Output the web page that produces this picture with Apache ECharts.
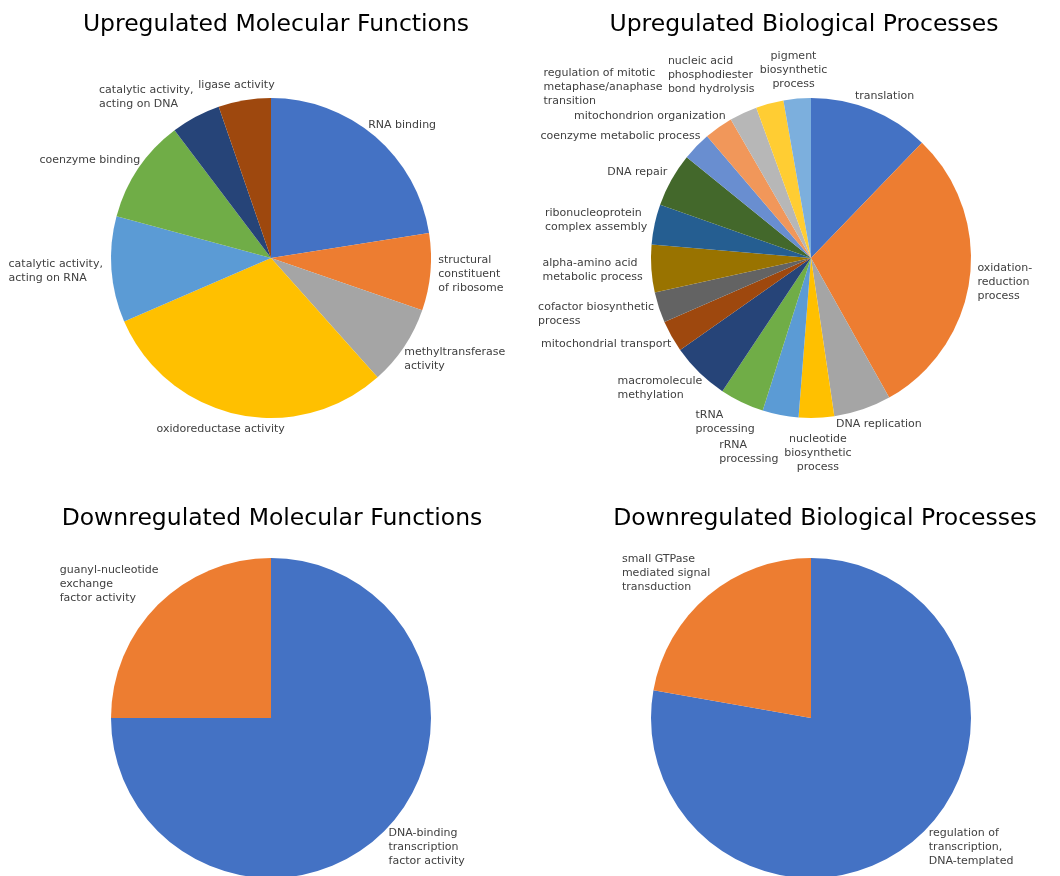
<!DOCTYPE html>
<html>
<head>
<meta charset="utf-8">
<title>GO enrichment pies</title>
<script src="https://cdn.jsdelivr.net/npm/echarts@6/dist/echarts.min.js"></script>
<style>
  html, body { margin: 0; padding: 0; background: #ffffff; }
  #chart { width: 1060px; height: 876px; }
</style>
</head>
<body>
<div id="chart"></div>
<script>
// Upregulated molecular functions (share of terms, %)
const upMfNames = [
  'RNA binding',
  'structural\nconstituent\nof ribosome',
  'methyltransferase\nactivity',
  'oxidoreductase activity',
  'catalytic activity,\nacting on RNA',
  'coenzyme binding',
  'catalytic activity,\nacting on DNA',
  'ligase activity'
];
const upMfValues = [22.5, 7.8, 8.1, 30.1, 10.7, 10.5, 5.0, 5.3];

// Upregulated biological processes (share of terms, %)
const upBpNames = [
  'translation',
  'oxidation-\nreduction\nprocess',
  'DNA replication',
  'nucleotide\nbiosynthetic\nprocess',
  'rRNA\nprocessing',
  'tRNA\nprocessing',
  'macromolecule\nmethylation',
  'mitochondrial transport',
  'cofactor biosynthetic\nprocess',
  'alpha-amino acid\nmetabolic process',
  'ribonucleoprotein\ncomplex assembly',
  'DNA repair',
  'coenzyme metabolic process',
  'mitochondrion organization',
  'regulation of mitotic\nmetaphase/anaphase\ntransition',
  'nucleic acid\nphosphodiester\nbond hydrolysis',
  'pigment\nbiosynthetic\nprocess'
];
const upBpValues = [12.2, 29.7, 5.8, 3.57, 3.64, 4.47, 5.9, 3.2, 3.1, 4.8, 4.07, 5.45, 2.9, 2.9, 2.8, 2.8, 2.76];

// Downregulated molecular functions (term counts)
const downMfNames = ['DNA-binding\ntranscription\nfactor activity', 'guanyl-nucleotide\nexchange\nfactor activity'];
const downMfValues = [3, 1];

// Downregulated biological processes (term counts)
const downBpNames = ['regulation of\ntranscription,\nDNA-templated', 'small GTPase\nmediated signal\ntransduction'];
const downBpValues = [7, 2];

const panelTitles = [
  'Upregulated Molecular Functions',
  'Upregulated Biological Processes',
  'Downregulated Molecular Functions',
  'Downregulated Biological Processes'
];

// Office-style palette in slice order
const palette = [
  '#4472C4', '#ED7D31', '#A5A5A5', '#FFC000', '#5B9BD5', '#70AD47',
  '#264478', '#9E480E', '#636363', '#997300', '#255E91', '#43682B',
  '#698ED0', '#F1975A', '#B7B7B7', '#FFCD33', '#7CAFDD'
];

const FONT = '"DejaVu Sans", Verdana, sans-serif';
const LABEL_SIZE = 11;
const LABEL_LINE_H = 14;
const RADIUS = 160;
const W = 1060, H = 876;

const panels = [
  { names: upMfNames,   values: upMfValues,   center: [271, 258], minY: 45,  maxY: 485 },
  { names: upBpNames,   values: upBpValues,   center: [811, 258], minY: 45,  maxY: 485 },
  { names: downMfNames, values: downMfValues, center: [271, 718], minY: 535, maxY: H - 8 },
  { names: downBpNames, values: downBpValues, center: [811, 718], minY: 535, maxY: H - 8 }
];

// ---- outside-end label placement --------------------------------------
const measureCtx = document.createElement('canvas').getContext('2d');
measureCtx.font = LABEL_SIZE + 'px ' + FONT;

function labelSize(text) {
  const lines = text.split('\n');
  let w = 0;
  lines.forEach(l => { w = Math.max(w, measureCtx.measureText(l).width); });
  return { w: Math.ceil(w), h: lines.length * LABEL_LINE_H };
}

const PAD_X = 4, PAD_Y = 1;
function overlaps(a, b) {
  return a.x - PAD_X < b.x + b.w && b.x - PAD_X < a.x + a.w &&
         a.y - PAD_Y < b.y + b.h && b.y - PAD_Y < a.y + a.h;
}

function nearestDist(box, c) {
  const nx = Math.max(box.x, Math.min(c[0], box.x + box.w));
  const ny = Math.max(box.y, Math.min(c[1], box.y + box.h));
  return Math.hypot(nx - c[0], ny - c[1]);
}

function layoutLabels(panel) {
  const { names, values, center, minY, maxY } = panel;
  const total = values.reduce((s, v) => s + v, 0);
  const gap = 8;
  let acc = 0;
  const items = names.map((name, i) => {
    const a0 = acc / total * 360;
    acc += values[i];
    const a1 = acc / total * 360;
    const mid = (a0 + a1) / 2;
    const rad = mid * Math.PI / 180;
    const ux = Math.sin(rad), uy = -Math.cos(rad);
    const s = labelSize(name);
    const cx = center[0] + (RADIUS + gap) * ux + s.w / 2 * ux;
    const cy = center[1] + (RADIUS + gap) * uy + s.h / 2 * uy;
    return {
      i, mid, ux, uy, w: s.w, h: s.h, x: cx - s.w / 2, y: cy - s.h / 2,
      align: Math.abs(ux) < 0.1 ? 'center' : 'left'
    };
  });

  // right half first (top to bottom), then left half (top to bottom)
  const right = items.filter(it => it.ux >= 0).sort((a, b) => a.mid - b.mid);
  const left = items.filter(it => it.ux < 0).sort((a, b) => b.mid - a.mid);
  const placed = [];
  const minClear = RADIUS - 1;

  function valid(box) {
    if (box.y < minY || box.y + box.h > maxY) return false;
    if (box.x < 2 || box.x + box.w > W - 2) return false;
    if (nearestDist(box, center) < minClear) return false;
    for (const p of placed) if (overlaps(box, p)) return false;
    return true;
  }

  // nudge each label the least distance (sideways preferred) to clear the pie and earlier labels
  const AX = 1, AY = 2;
  [...right, ...left].forEach(it => {
    let best = null, bestCost = Infinity;
    for (let dx = -170; dx <= 170; dx++) {
      const cx = AX * Math.abs(dx);
      if (cx >= bestCost) continue;
      for (let dy = -90; dy <= 90; dy++) {
        const cost = cx + AY * Math.abs(dy);
        if (cost >= bestCost) continue;
        const box = { x: it.x + dx, y: it.y + dy, w: it.w, h: it.h };
        if (valid(box)) { best = box; bestCost = cost; }
      }
    }
    if (best) { it.x = best.x; it.y = best.y; }
    placed.push({ x: it.x, y: it.y, w: it.w, h: it.h });
  });

  const out = [];
  items.forEach(it => { out[it.i] = it; });
  return out;
}

const labelBoxes = panels.map(layoutLabels);

// ---- chart -------------------------------------------------------------
function pieSeries(panel, idx) {
  return {
    type: 'pie',
    center: panel.center,
    radius: RADIUS,
    startAngle: 90,
    clockwise: true,
    animation: false,
    avoidLabelOverlap: false,
    emphasis: { disabled: true },
    label: {
      show: true,
      position: 'outside',
      formatter: '{b}',
      fontFamily: FONT,
      fontSize: LABEL_SIZE,
      lineHeight: LABEL_LINE_H,
      color: '#404040'
    },
    labelLine: { show: false },
    labelLayout: function (p) {
      const b = labelBoxes[idx][p.dataIndex];
      return {
        x: b.align === 'center' ? b.x + b.w / 2 : b.x,
        y: b.y,
        align: b.align,
        verticalAlign: 'top'
      };
    },
    data: panel.names.map((n, i) => ({
      name: n,
      value: panel.values[i],
      itemStyle: { color: palette[i], borderWidth: 0 }
    }))
  };
}

const titleCenters = [[276, 13], [804, 13], [272, 507], [825, 507]];

const chart = echarts.init(document.getElementById('chart'), null, { renderer: 'canvas' });
chart.setOption({
  backgroundColor: '#ffffff',
  title: panelTitles.map((t, i) => ({
    text: t,
    left: titleCenters[i][0],
    top: titleCenters[i][1],
    textAlign: 'center',
    padding: 0,
    textStyle: { fontFamily: FONT, fontSize: 23.5, fontWeight: 'normal', color: '#000000' }
  })),
  series: panels.map(pieSeries)
});
</script>
</body>
</html>
